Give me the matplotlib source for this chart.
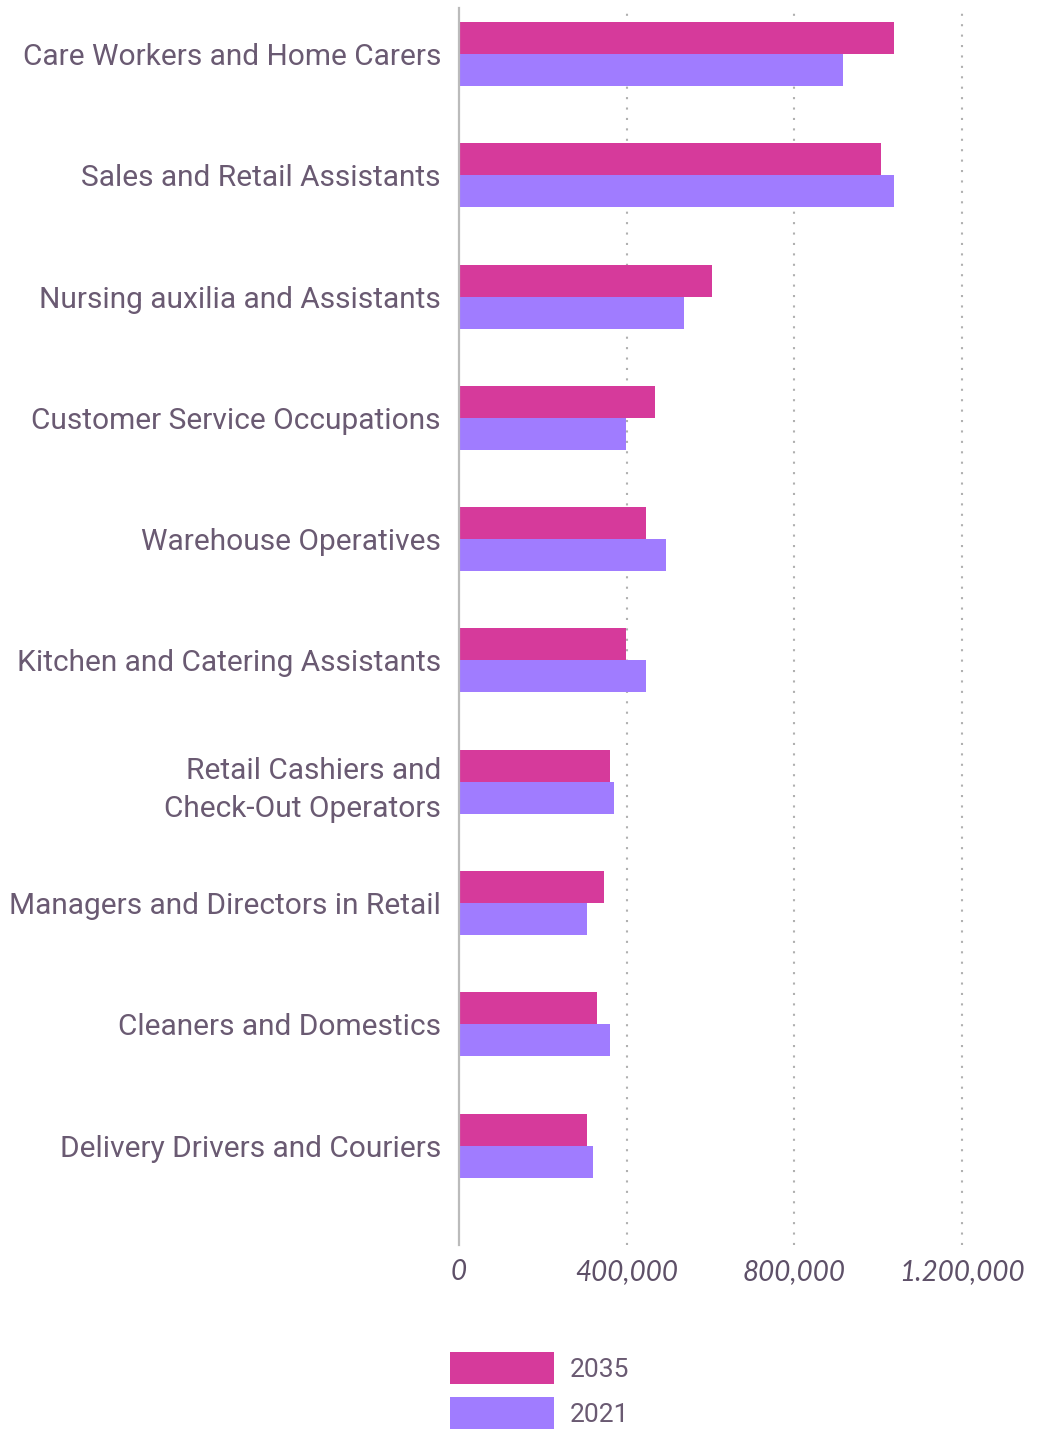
import numpy as np
import matplotlib.pyplot as plt

categories = [
    'Care Workers and Home Carers',
    'Sales and Retail Assistants',
    'Nursing auxilia and Assistants',
    'Customer Service Occupations',
    'Warehouse Operatives',
    'Kitchen and Catering Assistants',
    'Retail Cashiers and\nCheck-Out Operators',
    'Managers and Directors in Retail',
    'Cleaners and Domestics',
    'Delivery Drivers and Couriers',
]
values_2035 = [1038000, 1007000, 604000, 468000, 446000, 399000, 360000, 346000, 329000, 305000]
values_2021 = [916000, 1038000, 537000, 399000, 494000, 446000, 370000, 305000, 360000, 320000]
tick_values = [0, 400000, 800000, 1200000]
tick_labels = ['0', '400,000', '800,000', '1.200,000']

col_2035 = '#d63a9b'
col_2021 = '#a07cff'
text_col = '#6a5a72'

plt.rcParams['font.family'] = ['Roboto', 'DejaVu Sans']

fig = plt.figure(figsize=(10.44, 14.29), dpi=100)
ax = fig.add_axes([459 / 1044, 1 - 1245 / 1429, (1037 - 459) / 1044, (1245 - 8) / 1429])

y = np.arange(len(categories))
h = 0.264
ax.barh(y - h / 2, values_2035, height=h, color=col_2035, label='2035', zorder=3)
ax.barh(y + h / 2, values_2021, height=h, color=col_2021, label='2021', zorder=3)

ax.set_ylim(9.82, -0.38)
ax.set_xlim(0, 1380000)

ax.set_yticks(y)
ax.set_yticklabels(categories, fontsize=21.5, color=text_col, linespacing=1.45)
ax.tick_params(axis='y', length=0, pad=13)

ax.set_xticks(tick_values)
ax.set_xticklabels(tick_labels, fontsize=20, color='#5e5068', style='italic',
                   family=['Lato', 'DejaVu Sans'])
ax.tick_params(axis='x', length=0, pad=10)

for v in tick_values[1:]:
    ax.axvline(v, color='#b0b0b0', linestyle=(0, (1, 4)), linewidth=1.5, zorder=1)

for s in ['top', 'right', 'bottom']:
    ax.spines[s].set_visible(False)
ax.spines['left'].set_color('#bbbbbb')
ax.spines['left'].set_linewidth(1.6)
ax.spines['left'].set_zorder(4)

leg = fig.legend(loc='upper left', bbox_to_anchor=(450 / 1044, 1 - 1352 / 1429),
                 frameon=False, fontsize=19, handlelength=3.94, handleheight=1.49,
                 labelspacing=0.5, handletextpad=0.6, borderpad=0, borderaxespad=0)
for t in leg.get_texts():
    t.set_color(text_col)

fig.savefig('out.png', dpi=100)
